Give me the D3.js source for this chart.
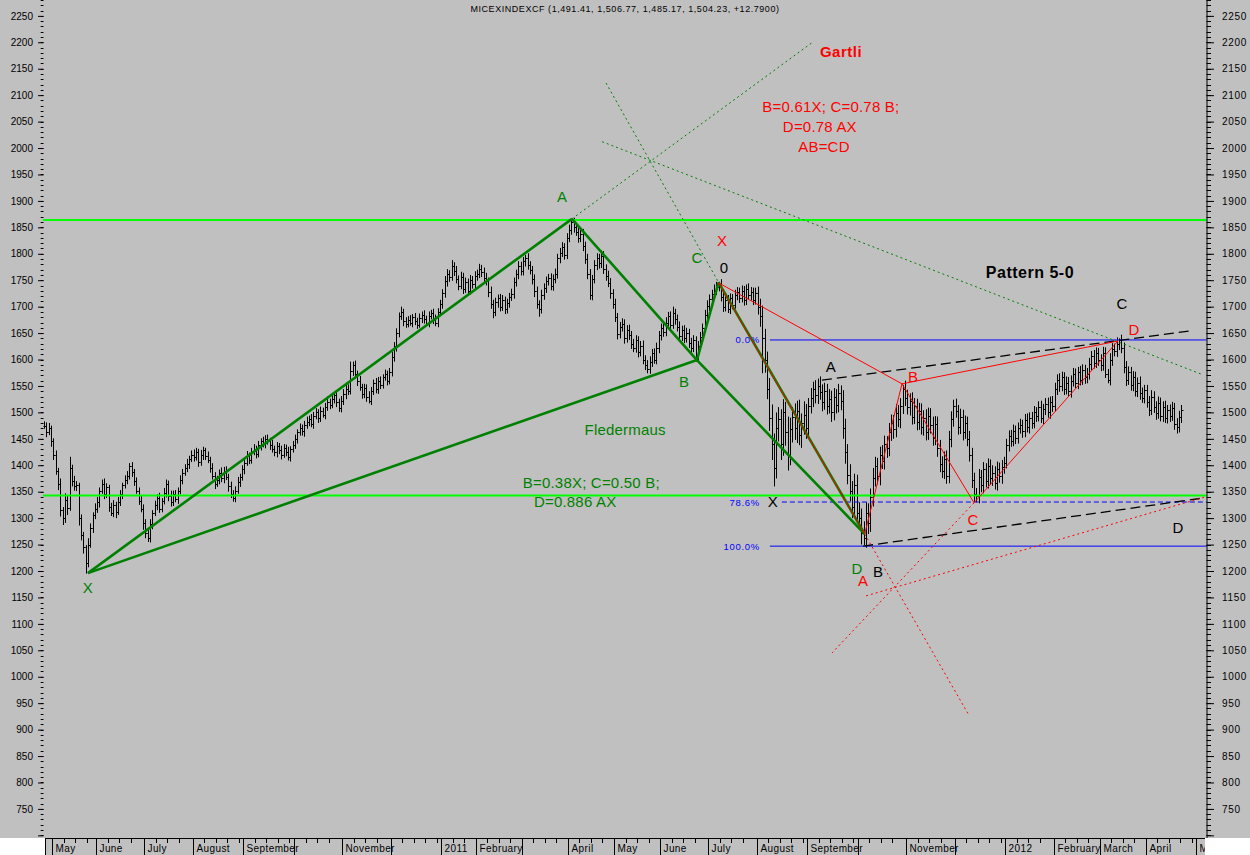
<!DOCTYPE html>
<html>
<head>
<meta charset="utf-8">
<script src="https://cdn.jsdelivr.net/npm/d3@7"></script>
<style>
body { margin: 0; background: #fff; }
svg { display: block; font-family: Arial, "Liberation Sans", sans-serif; }
</style>
</head>
<body>
<svg id="chart" width="1250" height="855"></svg>
<script>
// ---- data ----
var title = "MICEXINDEXCF (1,491.41, 1,506.77, 1,485.17, 1,504.23, +12.7900)";

// month labels on the bottom band and trading days per month (May 2010 .. Apr 2012)
var monthLabels = ["May","June","July","August","September","","November","","2011","February","","April",
                   "May","June","July","August","September","","November","","2012","February","March","April","May"];
var monthDays = [19,21,21,22,22,21,21,22,15,20,20,20,20,21,21,22,22,21,21,22,21,20,20,22];
var firstBar = -4; // four April 2010 bars before May

// daily closes
var closes = [
  1475,1462,1470,1445,
  1420,1390,1365,1315,1300,1335,1320,1395,1370,1360,1362,1300,1268,1245,1215,1250,1282,1305,1318,
  1330,1352,1365,1345,1358,1322,1310,1325,1312,1330,1345,1362,1372,1380,1398,1388,1370,1352,1333,1318,1290,
  1272,1262,1288,1310,1325,1338,1318,1332,1348,1365,1342,1330,1345,1336,1352,1372,1386,1394,1402,1412,1420,
  1415,1425,1406,1420,1428,1418,1410,1395,1380,1365,1372,1386,1375,1390,1378,1360,1346,1338,1352,1368,1378,1392,
  1405,1418,1410,1425,1430,1422,1438,1445,1440,1450,1446,1438,1430,1425,1436,1428,1420,1432,1425,1416,1430,1438,
  1450,1462,1470,1464,1476,1482,1488,1478,1494,1500,1490,1502,1496,1510,1520,1514,1526,1532,1520,1508,1522,
  1535,1545,1540,1578,1590,1572,1560,1548,1535,1546,1530,1522,1540,1556,1545,1560,1552,1566,1572,1560,1576,
  1605,1625,1650,1682,1690,1672,1668,1675,1670,1680,1672,1666,1678,1685,1676,1670,1682,1688,1675,1670,1690,1705,
  1725,1748,1762,1756,1776,1768,1752,1740,1756,1734,1746,1730,1750,1742,1758,
  1762,1772,1766,1755,1748,1728,1705,1690,1708,1716,1700,1712,1696,1706,1718,1724,1746,1762,1776,1768,
  1786,1792,1778,1770,1752,1730,1705,1695,1722,1736,1748,1755,1740,1752,1762,1792,1802,1812,1798,1830,
  1845,1860,1850,1842,1830,1838,1815,1790,1762,1722,1752,1778,1792,1782,1796,1772,1758,1745,1725,1705,
  1680,1648,1662,1668,1640,1656,1646,1630,1622,1636,1614,1626,1600,1590,1582,1596,1612,1600,1622,1646,
  1660,1652,1670,1682,1666,1688,1676,1662,1645,1656,1640,1650,1632,1622,1636,1606,1626,1642,1660,1685,1702,
  1714,1724,1732,1738,1742,1718,1700,1712,1696,1716,1704,1722,1728,1716,1730,1712,1734,1722,1728,1712,1726,
  1700,1682,1640,1600,1545,1490,1440,1395,1470,1488,1440,1500,1462,1420,1468,1492,1470,1502,1458,1480,1496,1470,
  1512,1528,1545,1532,1550,1538,1520,1540,1512,1526,1500,1530,1514,1536,1522,1470,1425,1382,1352,1322,1362,1310,
  1300,1272,1262,1310,1290,1340,1375,1398,1380,1420,1408,1440,1432,1462,1480,1468,1498,1488,1512,1545,1528,
  1510,1522,1492,1512,1482,1502,1472,1490,1462,1494,1476,1452,1478,1432,1402,1390,1412,1380,1450,1488,1512,
  1502,1472,1492,1462,1480,1450,1420,1372,1345,1342,1378,1362,1392,1370,1398,1376,1386,1366,1392,1380,1396,1404,
  1438,1456,1446,1465,1452,1470,1476,1464,1486,1472,1490,1480,1500,1494,1510,1490,1506,1516,1500,1520,1512,
  1545,1562,1550,1566,1545,1556,1540,1560,1572,1556,1576,1562,1580,1566,1572,1592,1606,1594,1612,1600,
  1590,1612,1572,1562,1600,1620,1616,1630,1636,1622,1585,1562,1576,1552,1566,1540,1556,1536,1528,1542,
  1520,1505,1530,1510,1498,1518,1494,1510,1490,1504,1494,1508,1478,1472,1491,1504
];
// how far each bar reaches above / below its open-close body
var wickUp = [
  8,6,10,5,
  6,8,5,10,6,12,8,21,6,10,8,5,7,6,4,12,8,6,10,
  10,6,8,10,8,5,7,9,6,10,8,5,9,9,6,8,5,7,6,9,8,
  8,6,10,5,8,7,10,6,9,8,6,10,7,8,6,9,7,8,10,6,8,
  10,8,6,9,7,5,8,6,9,7,8,6,10,7,8,6,9,7,8,10,6,8,
  7,9,6,8,10,7,8,6,9,7,8,6,10,7,8,6,9,8,7,10,6,8,
  8,6,9,7,8,10,6,9,7,8,6,9,7,8,10,6,9,7,8,6,9,
  9,7,8,18,6,8,7,9,6,8,7,10,8,6,9,7,8,6,9,7,8,
  10,8,9,7,10,6,8,7,9,6,8,7,9,6,8,7,9,6,8,10,7,8,
  8,10,9,7,12,8,9,7,10,8,9,7,10,8,9,
  8,9,7,8,9,7,10,8,9,7,8,10,7,9,8,10,9,8,10,9,
  8,6,9,8,7,9,8,7,10,8,9,7,8,9,10,8,9,10,8,9,
  10,6,8,9,7,8,9,8,10,9,8,10,9,8,10,9,8,10,9,8,
  10,8,9,10,8,9,10,8,9,10,8,9,10,8,9,10,8,9,10,8,
  8,9,10,8,9,12,8,9,10,8,9,10,8,9,10,8,9,10,8,9,10,
  9,8,10,9,5,10,9,8,10,9,8,10,9,8,10,9,8,10,9,8,10,
  12,15,20,18,15,20,25,20,30,22,18,25,20,30,22,18,25,20,22,18,25,20,
  15,18,13,16,14,18,15,16,14,18,15,16,14,18,15,20,18,15,20,18,22,20,
  20,18,22,20,18,16,20,18,16,15,18,16,15,18,16,15,18,16,15,7,15,
  15,14,16,15,14,16,15,14,16,15,14,16,15,14,16,15,14,16,15,14,12,
  14,12,15,13,14,12,15,13,14,12,15,13,14,12,15,13,14,12,15,13,14,12,
  12,10,11,12,10,11,12,10,11,12,10,11,12,10,11,12,10,11,12,10,11,
  11,10,12,11,10,12,11,10,12,11,10,12,11,10,12,11,10,12,11,10,
  10,12,11,10,12,11,10,12,4,11,10,12,11,10,12,11,10,12,11,10,
  10,11,12,10,11,12,10,11,12,10,11,12,10,11,12,10
];
var wickDn = [
  6,9,5,10,
  10,8,12,12,13,9,14,6,10,8,9,14,10,12,20,8,6,10,7,
  8,10,6,9,7,10,6,8,12,6,7,9,6,8,7,10,9,6,8,7,12,
  10,7,8,9,6,10,8,7,6,9,10,8,7,6,9,7,8,6,7,9,6,
  8,6,9,7,10,8,6,9,7,10,6,8,7,9,6,10,8,7,8,6,9,7,
  9,6,8,7,6,9,7,10,6,8,7,9,6,8,10,7,9,6,8,7,9,6,
  7,9,6,8,10,7,8,6,9,7,10,8,6,9,7,8,6,9,10,7,8,
  8,10,7,6,9,8,10,7,9,8,10,5,8,7,9,10,8,7,6,9,7,
  8,9,10,8,7,9,8,7,6,9,7,8,6,9,8,7,9,6,8,7,9,8,
  9,8,10,9,7,10,8,9,7,10,8,9,7,8,10,
  9,8,10,9,8,10,9,12,8,10,9,8,10,9,8,7,9,8,10,9,
  9,10,8,9,10,12,9,14,8,9,10,8,9,10,8,9,10,8,9,8,
  8,9,10,8,9,8,10,9,10,9,10,8,9,10,9,10,9,8,10,9,
  9,10,8,9,10,8,9,10,8,9,10,8,9,10,8,9,10,8,9,10,
  10,9,8,10,9,8,10,9,8,10,9,8,10,9,8,10,9,8,10,9,8,
  10,9,8,10,9,8,10,9,8,10,9,8,10,9,8,10,9,8,10,9,8,
  15,20,66,25,20,25,30,35,20,25,30,22,25,30,20,25,22,28,20,25,22,20,
  16,14,18,15,16,14,18,15,16,14,18,15,16,14,18,20,22,18,20,22,18,20,
  20,22,13,18,20,16,18,15,16,18,15,16,18,15,16,18,15,16,18,15,16,
  14,16,15,14,16,15,14,16,15,14,16,15,14,16,15,14,16,15,14,16,15,
  12,14,13,15,12,14,13,15,14,12,14,13,15,12,14,13,15,12,14,13,15,12,
  10,12,11,10,12,11,10,12,11,10,12,11,10,12,11,10,12,11,10,12,11,
  10,12,11,10,12,11,10,12,11,10,12,11,10,12,11,10,12,11,10,12,
  12,11,7,7,11,12,10,11,12,10,11,12,10,11,12,10,11,12,10,11,
  11,12,10,11,12,10,11,12,10,11,12,10,11,12,10,11
];

// price axis
var priceLabels = d3.range(750, 2251, 50);
var priceMajor = d3.range(700, 2251, 50);
var priceMinor = d3.range(700, 2281, 10);

// horizontal support / resistance levels
var greenLevels = [1864, 1343];

// Fledermaus (bat) pattern, points as [bar index, price]
var batPoints = [[15,1196],[225.3,1866],[279.6,1599],[289,1746],[352.5,1270]];
// Gartli pattern
var gartPoints = [[289,1745],[352.5,1270],[368.7,1554],[400,1329],[462.5,1635]];
var patternLegs = [[0,1],[1,2],[2,3],[3,4],[0,2],[2,4]];

var greenDotted = [[[225.3,1866],[329.5,2199]], [[240.1,2123],[289,1746]], [[238.4,2012],[499.5,1571]]];
var redDotted = [[[400,1329],[338.3,1045]], [[352.5,1270],[397.4,930]], [[353.1,1153],[500.4,1340]]];
var blackDashed = [[[333.9,1561],[493.8,1654]], [[351.8,1247],[499.5,1338]]];

// Fibonacci retracement
var fibTop = 1637, fibBottom = 1247;
var fibLevels = [0, 0.786, 1];
var fibNames = ["0.0%", "78.6%", "100.0%"];
var fibStart = [311.3, 316.5, 311.3];

// text notes: text, bar index, price, colour, size, bold
var notes = [
  ["X", 15, 1168, "#008000", 15, false],
  ["A", 221, 1909, "#008000", 15, false],
  ["B", 274, 1558, "#008000", 15, false],
  ["C", 279.6, 1792, "#008000", 15, false],
  ["D", 349.2, 1205, "#008000", 15, false],
  ["Fledermaus", 248.4, 1467, "#008000", 15, false],
  ["B=0.38X; C=0.50 B;", 233.7, 1367, "#008000", 15, false],
  ["D=0.886 AX", 226.7, 1331, "#008000", 15, false],
  ["Gartli", 342.2, 2182, "#ff0000", 15, true],
  ["B=0.61X; C=0.78 B;", 337.8, 2078, "#ff0000", 15, false],
  ["D=0.78 AX", 333, 2040, "#ff0000", 15, false],
  ["AB=CD", 334.8, 2002, "#ff0000", 15, false],
  ["X", 290.5, 1824, "#ff0000", 15, false],
  ["A", 351.8, 1181, "#ff0000", 15, false],
  ["B", 373.5, 1567, "#ff0000", 15, false],
  ["C", 399.6, 1298, "#ff0000", 15, false],
  ["D", 469.5, 1656, "#ff0000", 15, false],
  ["Pattern 5-0", 424.3, 1766, "#000000", 16, true],
  ["0", 291.4, 1773, "#000000", 15, false],
  ["A", 337.8, 1586, "#000000", 15, false],
  ["B", 358.3, 1198, "#000000", 15, false],
  ["C", 464.3, 1705, "#000000", 15, false],
  ["D", 488.6, 1283, "#000000", 15, false],
  ["X", 312.6, 1331, "#000000", 15, false]
];

// ---- drawing ----
var svg = d3.select("#chart");
var W = 1250, H = 855, plotBottom = 838, bandLeft = 45, bandRight = 1205, rightAxisX = 1206.5;

var monthStarts = [0];
monthDays.forEach(function(d, i) { monthStarts.push(monthStarts[i] + d); });

var x = d3.scaleLinear().domain([0, 497]).range([53.4, 1197.3]);
var y = d3.scaleLinear().domain([695, 2280]).range([plotBottom, 0]);

svg.append("rect").attr("x", 0).attr("y", 0).attr("width", W).attr("height", plotBottom).attr("fill", "#c0c0c0");
svg.append("rect").attr("x", bandLeft).attr("y", plotBottom).attr("width", bandRight - bandLeft).attr("height", H - plotBottom).attr("fill", "#c0c0c0");

svg.append("text").attr("x", 625).attr("y", 12).attr("text-anchor", "middle")
  .style("font-size", "9px").style("letter-spacing", "0.55px").text(title);

// price bars: high-low line, small open tick left, close tick right
var barPath = "";
closes.forEach(function(c, i) {
  var o = i > 0 ? closes[i - 1] : c;
  var hi = Math.max(o, c) + wickUp[i], lo = Math.min(o, c) - wickDn[i];
  var bx = Math.round(x(i + firstBar)) + 0.5;
  barPath += "M" + bx + "," + y(hi) + "V" + y(lo) +
             "M" + (bx - 1) + "," + (Math.round(y(o)) + 0.5) + "H" + bx +
             "M" + bx + "," + (Math.round(y(c)) + 0.5) + "H" + (bx + 2);
});
svg.append("path").attr("d", barPath).attr("fill", "none").attr("stroke", "#000").attr("stroke-width", 1);

// green horizontal levels
svg.selectAll(".lvl").data(greenLevels).enter().append("line")
  .attr("x1", 43).attr("x2", rightAxisX).attr("y1", function(d) { return y(d); }).attr("y2", function(d) { return y(d); })
  .attr("stroke", "#00ff00").attr("stroke-width", 2);

// fibonacci lines
fibLevels.forEach(function(f, k) {
  var v = fibTop - f * (fibTop - fibBottom);
  svg.append("line").attr("x1", x(fibStart[k])).attr("x2", rightAxisX).attr("y1", y(v)).attr("y2", y(v))
    .attr("stroke", "#0000ff").attr("stroke-width", 1).attr("stroke-dasharray", f > 0 && f < 1 ? "5,3" : null);
  svg.append("text").attr("x", x(307)).attr("y", y(v) + 3.5).attr("text-anchor", "end")
    .attr("fill", "#0000ff").style("font-size", "9.5px").style("letter-spacing", "0.7px").text(fibNames[k]);
});

function seg(list, color, dash, width) {
  list.forEach(function(s) {
    svg.append("line").attr("x1", x(s[0][0])).attr("y1", y(s[0][1])).attr("x2", x(s[1][0])).attr("y2", y(s[1][1]))
      .attr("stroke", color).attr("stroke-width", width).attr("stroke-dasharray", dash);
  });
}
seg(blackDashed, "#000", "10,5", 1.3);
seg(greenDotted, "#008000", "2,3", 1);
seg(redDotted, "#ff0000", "2,3", 1);

function legs(pts, color, width) {
  seg(patternLegs.map(function(l) { return [pts[l[0]], pts[l[1]]]; }), color, null, width);
}
legs(batPoints, "#008000", 2.6);
legs(gartPoints, "#ff0000", 1);

notes.forEach(function(n) {
  svg.append("text").attr("x", x(n[1])).attr("y", y(n[2])).attr("dy", "0.36em").attr("text-anchor", "middle")
    .attr("fill", n[3]).style("font-size", n[4] + "px").style("font-weight", n[5] ? "bold" : "normal")
    .style("letter-spacing", n[5] ? "0.5px" : "0.2px").text(n[0]);
});

// left price axis (no spine)
var leftAxis = svg.append("g").attr("transform", "translate(43.5,0)");
leftAxis.selectAll(".mn").data(priceMinor).enter().append("line")
  .attr("x1", -2.8).attr("x2", 0).attr("y1", function(d) { return Math.round(y(d)) + 0.5; }).attr("y2", function(d) { return Math.round(y(d)) + 0.5; })
  .attr("stroke", "#000");
leftAxis.call(d3.axisLeft(y).tickValues(priceMajor).tickSize(5.5).tickPadding(5)
  .tickFormat(function(d) { return d >= 750 ? d : ""; }));
leftAxis.select(".domain").remove();
leftAxis.selectAll("text").style("font-size", "10px").style("font-family", "Arial, 'Liberation Sans', sans-serif");

// right price axis
var rightAxis = svg.append("g").attr("transform", "translate(" + rightAxisX + ",0)");
rightAxis.selectAll(".mn").data(priceMinor).enter().append("line")
  .attr("x1", 0).attr("x2", 4.5).attr("y1", function(d) { return Math.round(y(d)) + 0.5; }).attr("y2", function(d) { return Math.round(y(d)) + 0.5; })
  .attr("stroke", "#000");
rightAxis.call(d3.axisRight(y).tickValues(priceMajor).tickSize(7.5).tickSizeOuter(0).tickPadding(8)
  .tickFormat(function(d) { return d >= 750 ? d : ""; }));
rightAxis.select(".domain").attr("d", "M0.5,0V" + plotBottom);
rightAxis.selectAll("text").style("font-size", "10px").style("letter-spacing", "0.7px").style("font-family", "Arial, 'Liberation Sans', sans-serif");

// bottom date band
svg.append("clipPath").attr("id", "bandClip").append("rect")
  .attr("x", bandLeft).attr("y", plotBottom).attr("width", bandRight - bandLeft).attr("height", H - plotBottom);
var band = svg.append("g").attr("clip-path", "url(#bandClip)");
band.append("line").attr("x1", bandLeft).attr("x2", bandRight).attr("y1", plotBottom + 0.5).attr("y2", plotBottom + 0.5).attr("stroke", "#000");
band.append("line").attr("x1", bandLeft + 0.5).attr("x2", bandLeft + 0.5).attr("y1", plotBottom).attr("y2", H).attr("stroke", "#000");
monthStarts.forEach(function(s, k) {
  var sx = Math.round(x(s) - 1) + 0.5;
  if (monthLabels[k]) {
    band.append("text").attr("x", sx + 3).attr("y", 852).style("font-size", "10px").style("letter-spacing", "0.4px").text(monthLabels[k]);
  }
  var e = k < monthDays.length ? monthStarts[k + 1] : 500;
  for (var t = s + 5; t < e - 1; t += 5) {
    var tx = Math.round(x(t) - 1) + 0.5;
    band.append("line").attr("x1", tx).attr("x2", tx).attr("y1", plotBottom).attr("y2", plotBottom + 5).attr("stroke", "#000");
  }
});
monthStarts.forEach(function(s) {
  var sx = Math.round(x(s) - 1) + 0.5;
  band.append("line").attr("x1", sx).attr("x2", sx).attr("y1", plotBottom).attr("y2", H).attr("stroke", "#000");
});
</script>
</body>
</html>
